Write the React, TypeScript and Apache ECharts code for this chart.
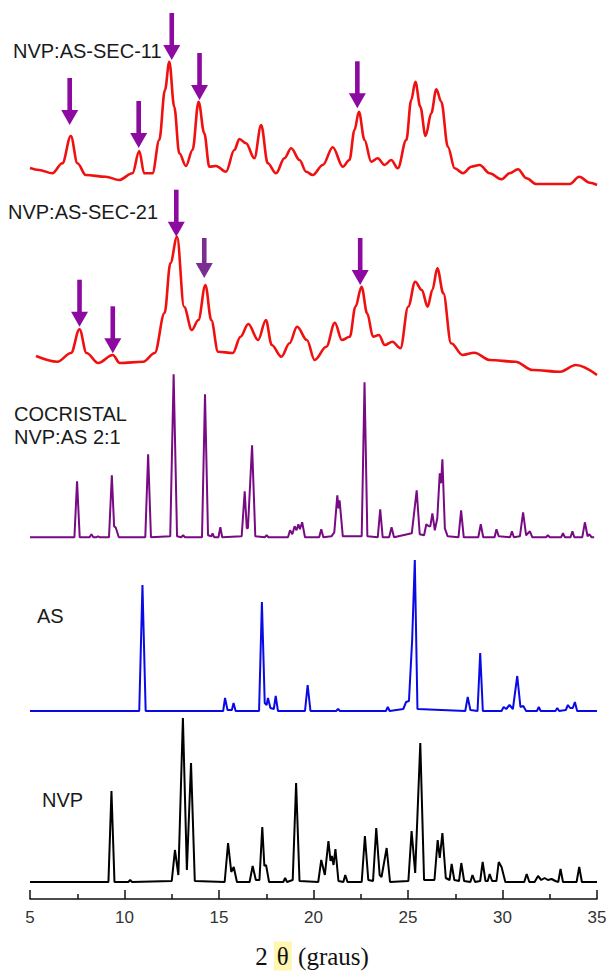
import React, { useEffect, useRef } from "react";
import * as echarts from "echarts";

// ---------- DATA (2θ in degrees, intensity in arbitrary units) ----------
const xTickValues = [5, 10, 15, 20, 25, 30, 35];
const seriesNames = ["NVP:AS-SEC-11", "NVP:AS-SEC-21", "COCRISTAL NVP:AS 2:1", "AS", "NVP"];

const sec11: number[][] = [
  [5, 22], [5.48, 20], [6.18, 16.7], [6.71, 26.7], [7.16, 54], [7.51, 26.7], [7.95, 15], [9.01, 13.3],
  [9.72, 10], [10.42, 16.7], [10.78, 39], [11.04, 16.7], [11.48, 16.7], [11.84, 50], [12.14, 100],
  [12.37, 128.3], [12.63, 83.3], [12.9, 36.7], [13.25, 24], [13.6, 40], [13.92, 88.3], [14.22, 56.7],
  [14.49, 23.3], [14.84, 24], [15.37, 18.3], [15.81, 40], [16.08, 51], [16.43, 46.7], [16.87, 31.7],
  [17.23, 65], [17.58, 26.7], [18.02, 16.7], [18.46, 31.7], [18.82, 41.7], [19.26, 30], [19.61, 18.3],
  [19.96, 15], [20.49, 25], [21.02, 42.7], [21.55, 23.3], [21.9, 30], [22.17, 60], [22.4, 78.3],
  [22.7, 50], [23.05, 28.3], [23.4, 31.7], [23.76, 25], [24.11, 30], [24.46, 21.7], [24.91, 50],
  [25.17, 90], [25.39, 108.3], [25.65, 83.3], [25.93, 54], [26.23, 76.7], [26.5, 100.7], [26.76, 88.3],
  [27.11, 43.3], [27.47, 21.7], [27.91, 16.7], [28.35, 23.3], [28.79, 25], [29.32, 16.7], [29.94, 10.7],
  [30.38, 16.7], [30.82, 20.7], [31.27, 11.7], [31.8, 6], [32.68, 6], [33.56, 6], [34.06, 13.3],
  [34.62, 7.3], [35, 5],
];

const sec21: number[][] = [
  [5.32, 29], [6.45, 23.3], [7.17, 32], [7.62, 55.7], [7.99, 32], [8.61, 22], [9.38, 30], [9.75, 22],
  [10.99, 23.3], [11.6, 32], [12.12, 72], [12.43, 122], [12.78, 148.3], [13.15, 78.3], [13.56, 55],
  [13.91, 65], [14.28, 100], [14.59, 65], [14.95, 33.3], [15.73, 32], [16.14, 48.3], [16.55, 61],
  [17.07, 45], [17.48, 65], [17.79, 40], [18.3, 28.3], [18.73, 41.7], [19.13, 58.3], [19.65, 45],
  [20.06, 25], [20.68, 38.3], [21.13, 62.3], [21.5, 45], [21.92, 48.3], [22.22, 78.3], [22.54, 98.3],
  [22.84, 71.7], [23.15, 48.3], [23.46, 50], [23.77, 40], [24.18, 43.3], [24.6, 36.7], [25.01, 78.3],
  [25.38, 103.3], [25.73, 95], [26.04, 78.3], [26.29, 95], [26.55, 116.7], [26.87, 91.7], [27.28, 41.7],
  [27.89, 30], [28.51, 32.3], [29.34, 25], [30.68, 23.3], [31.6, 15], [33.05, 13.3], [33.88, 20], [35, 10],
];

const cocrystal: number[][] = [
  [5, 1], [7.35, 1], [7.49, 57], [7.63, 1], [8.15, 1], [8.25, 4], [8.35, 1], [8.5, 1], [8.6, 2], [8.7, 1],
  [9.18, 1], [9.33, 63], [9.45, 12], [9.53, 11], [9.7, 1], [11.1, 1], [11.25, 84], [11.4, 1],
  [12.42, 2], [12.6, 164], [12.78, 2], [13.0, 1], [13.1, 3], [13.2, 1],
  [14.1, 1], [14.26, 144], [14.42, 3], [14.6, 2], [14.66, 5], [14.75, 1], [14.97, 1], [15.07, 11], [15.17, 1],
  [16.2, 2], [16.36, 47], [16.47, 10], [16.53, 10], [16.75, 93], [16.92, 2], [17.42, 1], [17.52, 3], [17.62, 1],
  [18.65, 1], [18.76, 8], [18.88, 4], [19.0, 12], [19.1, 8], [19.2, 14], [19.28, 9], [19.4, 16], [19.55, 1],
  [20.3, 1], [20.41, 9], [20.52, 1], [20.95, 2], [21.1, 6], [21.26, 43], [21.32, 30], [21.38, 38], [21.55, 2],
  [22.55, 2], [22.7, 156], [22.85, 2], [23.4, 1], [23.53, 29], [23.66, 1], [24.0, 1], [24.13, 11], [24.26, 1],
  [25.2, 5], [25.46, 48], [25.62, 4], [25.85, 3], [25.97, 14], [26.1, 12], [26.18, 12], [26.29, 25],
  [26.42, 8], [26.55, 20], [26.68, 65], [26.75, 55], [26.82, 79], [26.95, 10], [27.1, 2],
  [27.67, 1], [27.81, 28], [27.95, 1], [28.72, 1], [28.85, 14], [28.98, 1], [29.58, 1], [29.68, 9], [29.8, 2],
  [30.4, 1], [30.5, 7], [30.6, 1], [30.92, 2], [31.09, 26], [31.25, 3], [31.45, 7], [31.58, 1],
  [32.3, 1], [32.4, 3], [32.5, 1], [33.1, 1], [33.2, 5], [33.3, 1], [33.6, 1], [33.7, 7], [33.8, 1],
  [34.22, 1], [34.36, 16], [34.5, 2], [34.6, 4], [34.72, 1], [34.85, 1],
];

const asPattern: number[][] = [
  [5, 0], [10.78, 0], [10.95, 126], [11.12, 0], [15.22, 0], [15.32, 13], [15.45, 1], [15.68, 1], [15.77, 8],
  [15.88, 0], [17.12, 0], [17.27, 109], [17.42, 8], [17.52, 6], [17.59, 13], [17.72, 3], [17.9, 2],
  [18.0, 15], [18.12, 0], [19.55, 0], [19.69, 26], [19.84, 0], [21.2, 0], [21.3, 2], [21.4, 0],
  [23.83, 0], [23.93, 4], [24.03, 0], [24.75, 2], [24.9, 9], [25.05, 10], [25.22, 71], [25.36, 151],
  [25.5, 2], [28.03, 0], [28.16, 14], [28.3, 1], [28.68, 0], [28.82, 58], [28.96, 0],
  [29.95, 0], [30.06, 4], [30.2, 2], [30.37, 6], [30.55, 2], [30.78, 35], [30.95, 4], [31.1, 5], [31.25, 0],
  [31.82, 0], [31.92, 4], [32.02, 0], [32.8, 0], [32.9, 3], [33.0, 0], [33.35, 1], [33.46, 6], [33.58, 3],
  [33.72, 3], [33.83, 9], [33.95, 0], [35, 0],
];

const nvp: number[][] = [
  [5, 1], [9.15, 1], [9.31, 92], [9.47, 1], [10.2, 1], [10.3, 3], [10.4, 1],
  [12.5, 2], [12.67, 33], [12.85, 8], [13.09, 165], [13.3, 13], [13.52, 120], [13.72, 2],
  [15.3, 1], [15.48, 40], [15.65, 11], [15.78, 16], [15.95, 1], [16.62, 1], [16.78, 17], [16.95, 3],
  [17.14, 3], [17.29, 56], [17.4, 17], [17.49, 18], [17.65, 1], [18.4, 1], [18.5, 5], [18.6, 1],
  [18.9, 3], [19.08, 100], [19.26, 2], [20.25, 1], [20.41, 23], [20.6, 8], [20.79, 42], [20.9, 22],
  [20.97, 27], [21.06, 18], [21.16, 34], [21.32, 2], [21.58, 1], [21.68, 8], [21.8, 1],
  [22.55, 1], [22.72, 47], [22.9, 3], [23.15, 2], [23.32, 55], [23.5, 8], [23.6, 6], [23.87, 35], [24.05, 1],
  [25.02, 2], [25.19, 52], [25.38, 10], [25.65, 140], [25.85, 3], [26.4, 3], [26.57, 43], [26.68, 25],
  [26.82, 50], [27.0, 5], [27.2, 3], [27.31, 19], [27.45, 3], [27.7, 2], [27.82, 20], [27.97, 2],
  [28.3, 1], [28.41, 8], [28.55, 1], [28.82, 2], [28.95, 21], [29.1, 2], [29.22, 2], [29.32, 9], [29.45, 2],
  [29.68, 2], [29.8, 21], [29.95, 16], [30.15, 1], [31.15, 1], [31.28, 9], [31.42, 1],
  [31.7, 1], [31.88, 7], [32.05, 3], [32.23, 5], [32.4, 3], [32.6, 4], [32.8, 2],
  [32.95, 1], [33.07, 14], [33.2, 1], [33.92, 1], [34.06, 16], [34.2, 1], [35, 1],
];

// arrow annotations: [2θ, intensity of arrow tip in its pattern]
const arrowsSec11: number[][] = [[7.1, 65], [10.75, 42], [12.5, 130], [13.97, 90], [22.32, 81.7]];
const arrowsSec21: number[][] = [[7.62, 58.3], [9.38, 31.7], [12.74, 148.3], [14.22, 107], [22.47, 100]];

// ---------- STYLE / LAYOUT ----------
const OFFSETS = [709, 514, 360.7, 188, 16]; // vertical stacking of patterns
const COLORS = ["#f01010", "#f01010", "#780a84", "#0a0ae6", "#000000"];
const ARROW = "#8c0aa0";
const ARROW_ALT = "#7a2e92";

function shift(data: number[][], off: number) {
  return data.map(([x, y]) => [x, y + off]);
}

export default function App() {
  const ref = useRef<HTMLDivElement>(null);
  useEffect(() => {
    if (!ref.current) return;
    const chart = echarts.init(ref.current, undefined, { renderer: "svg" });
    const patterns = [sec11, sec21, cocrystal, asPattern, nvp];

    const lineSeries = patterns.map((d, i) => ({
      name: seriesNames[i],
      type: "line",
      data: shift(d, OFFSETS[i]),
      showSymbol: false,
      symbol: "none",
      smooth: i < 2 ? 0.35 : false,
      smoothMonotone: i < 2 ? "x" : undefined,
      lineStyle: { color: COLORS[i], width: i < 2 ? 2.6 : 2 },
      z: 2,
    }));

    const arrowData = [
      ...arrowsSec11.map(([x, y]) => ({ value: [x, y + OFFSETS[0], 47], itemStyle: { color: ARROW } })),
      ...arrowsSec21.map(([x, y], k) => ({
        value: [x, y + OFFSETS[1], k === 3 ? 40 : 47],
        itemStyle: { color: k === 3 ? ARROW_ALT : ARROW },
      })),
    ];

    const arrowSeries = {
      type: "custom",
      data: arrowData,
      clip: false,
      z: 5,
      renderItem: (params: any, api: any) => {
        const p = api.coord([api.value(0), api.value(1)]);
        const len = api.value(2);
        const color = api.visual("color");
        return {
          type: "group",
          children: [
            {
              type: "rect",
              shape: { x: p[0] - 2.3, y: p[1] - len, width: 4.6, height: len - 14 },
              style: { fill: color },
            },
            {
              type: "polygon",
              shape: { points: [[p[0] - 8.5, p[1] - 15], [p[0] + 8.5, p[1] - 15], [p[0], p[1]]] },
              style: { fill: color },
            },
          ],
        };
      },
    };

    const labelFont = { fontSize: 20, fontFamily: "Liberation Sans, Arial, sans-serif", fill: "#1a1a1a" };
    const mkLabel = (text: string, x: number, y: number) => ({
      type: "text",
      x,
      y,
      style: { ...labelFont, text, verticalAlign: "middle", align: "left", lineHeight: 23 },
      z: 10,
    });

    chart.setOption({
      animation: false,
      backgroundColor: "#ffffff",
      grid: { left: 30, right: 13, top: 0, bottom: 73, containLabel: false },
      xAxis: {
        type: "value",
        min: 5,
        max: 35,
        interval: 5,
        axisLine: { show: true, lineStyle: { color: "#111", width: 1.5 } },
        axisTick: { show: true, inside: true, length: 9, lineStyle: { color: "#111", width: 1.5 } },
        minorTick: { show: true, splitNumber: 2, length: 5, lineStyle: { color: "#111", width: 1.5 } },
        splitLine: { show: false },
        axisLabel: {
          fontSize: 17,
          fontFamily: "Liberation Sans, Arial, sans-serif",
          color: "#333",
          margin: 10,
          formatter: (v: number) => (xTickValues.includes(v) ? String(v) : ""),
        },
      },
      yAxis: { type: "value", min: 0, max: 899, show: false, splitLine: { show: false } },
      series: [...lineSeries, arrowSeries],
      graphic: [
        mkLabel(seriesNames[0], 13, 51),
        mkLabel(seriesNames[1], 8, 212),
        mkLabel("COCRISTAL\nNVP:AS 2:1", 14, 425.5),
        mkLabel(seriesNames[3], 37, 616),
        mkLabel(seriesNames[4], 42, 800),
        {
          type: "text",
          x: 312,
          y: 956,
          z: 10,
          style: {
            text: "{a|2 }{t|θ}{a| (graus)}",
            align: "center",
            verticalAlign: "middle",
            rich: {
              a: { fontSize: 25, fontFamily: "Liberation Serif, Times New Roman, serif", fill: "#111" },
              t: {
                fontSize: 25,
                fontFamily: "Liberation Serif, Times New Roman, serif",
                fill: "#111",
                backgroundColor: "#fff6b0",
                padding: [2, 3],
              },
            },
          },
        },
      ],
    });
    return () => chart.dispose();
  }, []);
  return (
    <div
      ref={ref}
      style={{ position: "fixed", left: 0, top: 0, width: 610, height: 972, background: "#fff" }}
    />
  );
}
